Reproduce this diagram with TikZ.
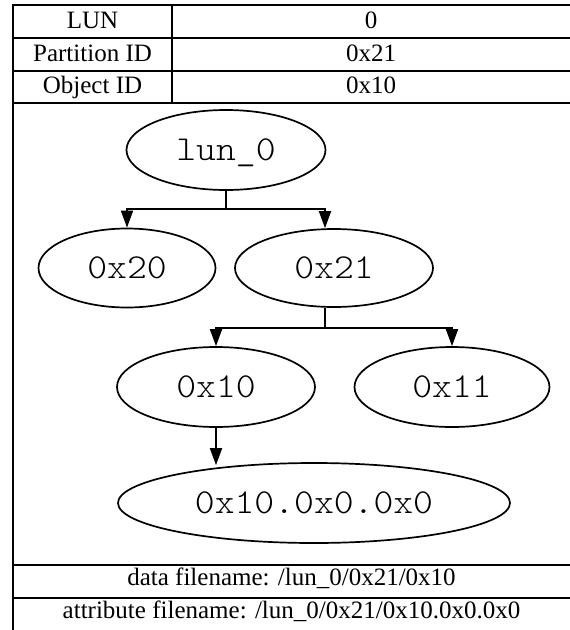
\documentclass[tikz,border=0pt]{standalone}
\usepackage{fontspec}
\setmainfont{Liberation Serif}
\newfontfamily\treefont[FakeStretch=1.08]{Latin Modern Mono Light}
\usetikzlibrary{shapes.geometric,arrows.meta,calc}
\begin{document}
\begin{tikzpicture}[x=1pt,y=-1pt,
  rule/.style={line width=1.8pt},
  cell/.style={anchor=base,inner sep=0pt,font=\fontsize{25}{29}\selectfont},
  key/.style={ellipse,draw,line width=1.7pt,inner sep=0pt,
    text height=21pt,text depth=0pt,font=\treefont\fontsize{35}{40}\selectfont},
  link/.style={line width=1.8pt},
  arr/.style={link,-{Triangle[length=17pt,width=12pt]}}
]
\useasboundingbox (0,0) rectangle (570,630);

% table frame
\draw[rule] (13,630) -- (13,5) -- (570,5);
\foreach \yy in {38,71,103,565,598} \draw[rule] (13,\yy) -- (570,\yy);
\draw[rule] (172,5) -- (172,103);

% header rows
\node[cell] (k1) at (92.5,28) {LUN};
\node[cell] (v1) at (371,28) {0};
\node[cell] (k2) at (92.5,61) {Partition ID};
\node[cell] (v2) at (371,61) {0x21};
\node[cell] (k3) at (92.5,93) {Object ID};
\node[cell] (v3) at (371,93) {0x10};

% footer rows
\node[cell] (f1) at (291.5,585) {data filename: /lun\_0/0x21/0x10};
\node[cell] (f2) at (291.5,618) {attribute filename: /lun\_0/0x21/0x10.0x0.0x0};

% tree
\node[key,minimum width=199pt,minimum height=80pt] (lun0) at (226,150) {lun\_0};
\node[key,minimum width=177pt,minimum height=79pt] (e20) at (127,268) {0x20};
\node[key,minimum width=198pt,minimum height=78pt] (e21) at (334,268) {0x21};
\node[key,minimum width=198pt,minimum height=80pt] (e10) at (216,387) {0x10};
\node[key,minimum width=195pt,minimum height=80pt] (e11) at (452,387) {0x11};
\node[key,minimum width=392pt,minimum height=80pt] (e100) at (314,503) {0x10.0x0.0x0};

% connectors
\coordinate (j1) at ($(lun0.south)+(0,18)$);
\draw[link] (lun0.south) -- (j1);
\draw[arr] (j1) -| (e20.north);
\draw[arr] (j1) -| ([xshift=-9pt]e21.north);

\coordinate (j2) at ($([xshift=-9pt]e21.south)+(0,20)$);
\draw[link] ([xshift=-9pt]e21.south) -- (j2);
\draw[arr] (j2) -| (e10.north);
\draw[arr] (j2) -| (e11.north);

\draw[arr] (e10.south) -- ($(e10.south |- e100.north)+(0,3)$);
\end{tikzpicture}
\end{document}
